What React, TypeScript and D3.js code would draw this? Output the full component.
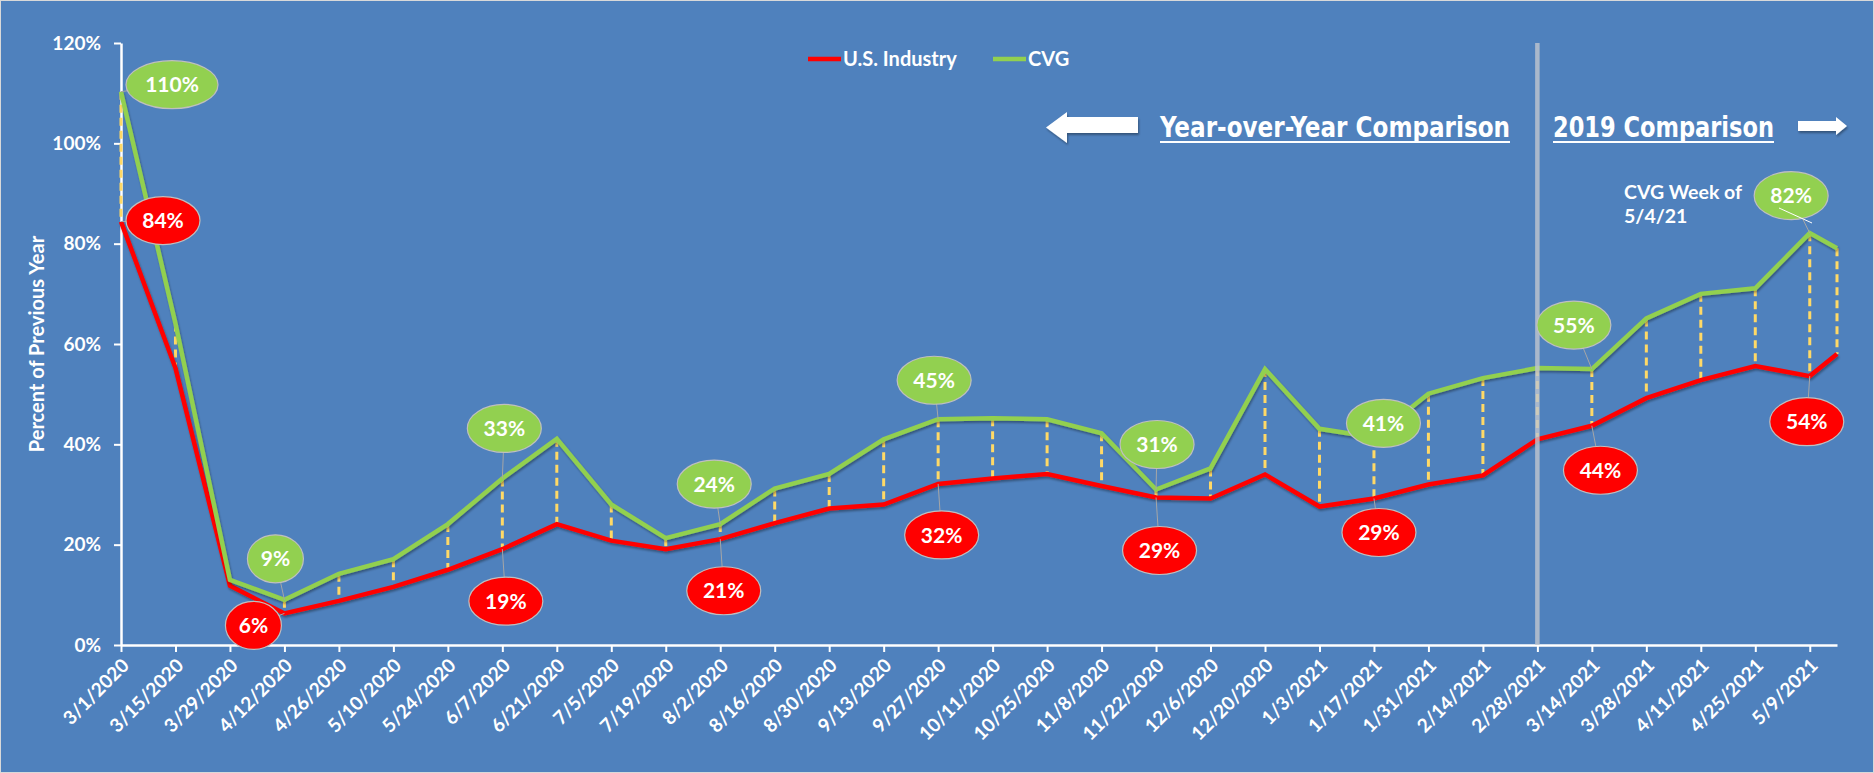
import * as d3 from "d3";
import React, { useRef, useEffect } from "react";

const width = 1874;
const height = 773;
const margin = { top: 43, right: 37, bottom: 128, left: 121 };

// biweekly weeks, last point is one week after 5/9/2021
const dates = [
  "3/1/2020", "3/15/2020", "3/29/2020", "4/12/2020", "4/26/2020", "5/10/2020",
  "5/24/2020", "6/7/2020", "6/21/2020", "7/5/2020", "7/19/2020", "8/2/2020",
  "8/16/2020", "8/30/2020", "9/13/2020", "9/27/2020", "10/11/2020", "10/25/2020",
  "11/8/2020", "11/22/2020", "12/6/2020", "12/20/2020", "1/3/2021", "1/17/2021",
  "1/31/2021", "2/14/2021", "2/28/2021", "3/14/2021", "3/28/2021", "4/11/2021",
  "4/25/2021", "5/9/2021", "5/16/2021",
];
const tickDates = dates.slice(0, 32);
const yTicks = [0, 20, 40, 60, 80, 100, 120];

const usIndustry = [
  84.4, 55.2, 11.8, 6.3, 8.8, 11.6, 15.0, 19.1, 24.1, 20.8, 19.1, 21.1, 24.3, 27.2,
  28.0, 32.1, 33.2, 34.1, 31.7, 29.4, 29.2, 34.0, 27.6, 29.2, 32.0, 33.8, 41.0, 43.7,
  49.2, 52.8, 55.6, 53.6, 58.0,
];
const cvg = [
  110.3, 64.1, 13.0, 9.0, 14.2, 17.1, 24.1, 33.2, 41.1, 28.0, 21.3, 24.1, 31.2, 34.1,
  41.0, 45.0, 45.2, 45.0, 42.2, 31.0, 35.2, 55.0, 43.1, 41.4, 50.1, 53.2, 55.2, 55.0,
  65.1, 70.0, 71.1, 82.1, 79.1,
];

const splitDate = "2/28/2021";

// bubble labels: which point, and where the bubble sits relative to it
const callouts = [
  { s: "cvg", i: 0, dx: 51, dy: -7, rx: 46 },
  { s: "us", i: 0, dx: 42, dy: -1, rx: 37 },
  { s: "cvg", i: 3, dx: -9, dy: -41, rx: 28 },
  { s: "us", i: 3, dx: -31, dy: 12, rx: 28 },
  { s: "cvg", i: 7, dx: 2, dy: -50, rx: 37 },
  { s: "us", i: 7, dx: 3.5, dy: 52, rx: 37 },
  { s: "cvg", i: 11, dx: -6, dy: -40, rx: 37 },
  { s: "us", i: 11, dx: 3.5, dy: 51.6, rx: 37 },
  { s: "cvg", i: 15, dx: -4, dy: -39, rx: 37 },
  { s: "us", i: 15, dx: 3.5, dy: 51, rx: 37 },
  { s: "cvg", i: 19, dx: 1, dy: -45, rx: 37 },
  { s: "us", i: 19, dx: 3.5, dy: 53, rx: 37 },
  { s: "cvg", i: 23, dx: 9.5, dy: -14, rx: 37 },
  { s: "us", i: 23, dx: 5, dy: 34, rx: 37 },
  { s: "cvg", i: 27, dx: -18, dy: -44, rx: 37 },
  { s: "us", i: 27, dx: 8.6, dy: 44.5, rx: 37 },
  { s: "cvg", i: 31, dx: -18.6, dy: -37.5, rx: 37 },
  { s: "us", i: 31, dx: -3, dy: 45.6, rx: 37 },
];

const font = "Lato, 'Open Sans', sans-serif";
const narrow = "'Liberation Sans Narrow', 'DejaVu Sans Condensed', sans-serif";

export default function App() {
  const ref = useRef<SVGSVGElement>(null);

  useEffect(() => {
    const svg = d3.select(ref.current);
    svg.selectAll("*").remove();

    const parse = d3.timeParse("%m/%d/%Y");
    const x = d3
      .scaleTime()
      .domain([parse(dates[0]) as Date, parse(dates[dates.length - 1]) as Date])
      .range([margin.left, width - margin.right]);
    const y = d3
      .scaleLinear()
      .domain([0, 120])
      .range([height - margin.bottom, margin.top]);

    const defs = svg.append("defs");
    const shadow = defs.append("filter").attr("id", "shadow").attr("x", "-10%").attr("y", "-10%").attr("width", "120%").attr("height", "130%");
    shadow
      .append("feDropShadow")
      .attr("dx", 1)
      .attr("dy", 2)
      .attr("stdDeviation", 1.2)
      .attr("flood-color", "#000")
      .attr("flood-opacity", 0.35);

    svg
      .append("rect")
      .attr("x", 0.5)
      .attr("y", 0.5)
      .attr("width", width - 1)
      .attr("height", height - 1)
      .attr("fill", "#4F81BD")
      .attr("stroke", "#D9D9D9");

    // axes
    const yAxis = d3
      .axisLeft(y)
      .tickValues(yTicks)
      .tickSize(7)
      .tickSizeOuter(0)
      .tickPadding(13)
      .tickFormat((d) => `${d}%`);
    const gy = svg.append("g").attr("transform", `translate(${margin.left},0)`).call(yAxis);

    const xAxis = d3
      .axisBottom(x)
      .tickValues(tickDates.map((d) => parse(d) as Date))
      .tickSize(7)
      .tickSizeOuter(0)
      .tickFormat((d, i) => tickDates[i]);
    const gx = svg
      .append("g")
      .attr("transform", `translate(0,${height - margin.bottom})`)
      .call(xAxis);

    [gx, gy].forEach((g) => {
      g.select(".domain").attr("stroke", "#fff").attr("stroke-width", 2.5);
      g.selectAll(".tick line").attr("stroke", "#fff").attr("stroke-width", 2);
      g.selectAll("text")
        .attr("fill", "#fff")
        .style("font-family", font)
        .style("font-weight", "bold")
        .style("font-size", "19px");
    });
    gx.selectAll("text")
      .attr("x", 0)
      .attr("y", 0)
      .attr("dy", "0.35em")
      .attr("text-anchor", "end")
      .attr("transform", "translate(4,17) rotate(-45)");

    svg
      .append("text")
      .attr("transform", `translate(44,${(margin.top + height - margin.bottom) / 2}) rotate(-90)`)
      .attr("text-anchor", "middle")
      .attr("fill", "#fff")
      .style("font-family", font)
      .style("font-weight", "bold")
      .style("font-size", "20px")
      .text("Percent of Previous Year");

    // high-low drop lines
    svg
      .append("g")
      .selectAll("line")
      .data(dates)
      .join("line")
      .attr("x1", (d) => x(parse(d) as Date))
      .attr("x2", (d) => x(parse(d) as Date))
      .attr("y1", (d, i) => y(cvg[i]))
      .attr("y2", (d, i) => y(usIndustry[i]))
      .attr("stroke", "#FFD966")
      .attr("stroke-width", 3)
      .attr("stroke-dasharray", "8,5");

    const line = (vals: number[]) =>
      d3
        .line<string>()
        .x((d) => x(parse(d) as Date))
        .y((d, i) => y(vals[i]))(dates);

    svg
      .append("path")
      .attr("d", line(usIndustry))
      .attr("fill", "none")
      .attr("stroke", "#FF0000")
      .attr("stroke-width", 4.5)
      .attr("filter", "url(#shadow)");
    svg
      .append("path")
      .attr("d", line(cvg))
      .attr("fill", "none")
      .attr("stroke", "#92D050")
      .attr("stroke-width", 4.5)
      .attr("filter", "url(#shadow)");

    // divider between year-over-year and 2019 comparison
    const sx = x(parse(splitDate) as Date);
    svg
      .append("line")
      .attr("x1", sx)
      .attr("x2", sx)
      .attr("y1", margin.top)
      .attr("y2", height - margin.bottom)
      .attr("stroke", "#C0C6CE")
      .attr("stroke-opacity", 0.8)
      .attr("stroke-width", 4.5);

    // bubbles
    const cg = svg.append("g");
    callouts.forEach((c) => {
      const vals = c.s === "cvg" ? cvg : usIndustry;
      const px = x(parse(dates[c.i]) as Date);
      const py = y(vals[c.i]);
      const cx = px + c.dx;
      const cy = py + c.dy;
      cg.append("line")
        .attr("x1", px)
        .attr("y1", py)
        .attr("x2", cx)
        .attr("y2", cy)
        .attr("stroke", "#A6A6A6")
        .attr("stroke-width", 1);
      cg.append("ellipse")
        .attr("cx", cx)
        .attr("cy", cy)
        .attr("rx", c.rx)
        .attr("ry", 24)
        .attr("fill", c.s === "cvg" ? "#92D050" : "#FF0000")
        .attr("stroke", "#BFBFBF")
        .attr("stroke-width", 1.2);
      cg.append("text")
        .attr("x", cx)
        .attr("y", cy)
        .attr("dy", "0.36em")
        .attr("text-anchor", "middle")
        .attr("fill", "#fff")
        .style("font-family", font)
        .style("font-weight", "bold")
        .style("font-size", "21px")
        .text(`${Math.round(vals[c.i])}%`);
    });

    // stray white tick under the 82% bubble
    svg
      .append("line")
      .attr("x1", 1779)
      .attr("y1", 208)
      .attr("x2", 1812)
      .attr("y2", 223)
      .attr("stroke", "#fff")
      .attr("stroke-width", 1);

    svg
      .append("text")
      .attr("x", 1624)
      .attr("y", 199)
      .attr("fill", "#fff")
      .style("font-family", font)
      .style("font-weight", "bold")
      .style("font-size", "19.5px")
      .selectAll("tspan")
      .data(["CVG Week of", "5/4/21"])
      .join("tspan")
      .attr("x", 1624)
      .attr("dy", (d, i) => (i === 0 ? 0 : 24))
      .text((d) => d);

    // legend
    const legend = [
      { name: "U.S. Industry", color: "#FF0000", x: 808 },
      { name: "CVG", color: "#92D050", x: 993 },
    ];
    legend.forEach((l) => {
      svg
        .append("line")
        .attr("x1", l.x)
        .attr("x2", l.x + 33)
        .attr("y1", 59)
        .attr("y2", 59)
        .attr("stroke", l.color)
        .attr("stroke-width", 4.5);
      svg
        .append("text")
        .attr("x", l.x + 35)
        .attr("y", 66)
        .attr("fill", "#fff")
        .style("font-family", font)
        .style("font-weight", "bold")
        .style("font-size", "20px")
        .text(l.name);
    });

    // section headers with block arrows
    const headers = [
      { text: "Year-over-Year Comparison", x: 1160, w: 350 },
      { text: "2019 Comparison", x: 1553, w: 221 },
    ];
    headers.forEach((h) => {
      svg
        .append("text")
        .attr("x", h.x)
        .attr("y", 137)
        .attr("textLength", h.w)
        .attr("lengthAdjust", "spacingAndGlyphs")
        .attr("fill", "#fff")
        .style("font-family", narrow)
        .style("font-weight", "bold")
        .style("font-size", "29px")
        .text(h.text);
      svg
        .append("line")
        .attr("x1", h.x)
        .attr("x2", h.x + h.w)
        .attr("y1", 142)
        .attr("y2", 142)
        .attr("stroke", "#fff")
        .attr("stroke-width", 1.8);
    });

    const arrows = [
      [[1046, 127.5], [1067, 112], [1067, 117], [1138, 117], [1138, 133], [1067, 133], [1067, 143]],
      [[1847, 126], [1836, 117], [1836, 121], [1798, 121], [1798, 131], [1836, 131], [1836, 135]],
    ];
    svg
      .selectAll(".arrow")
      .data(arrows)
      .join("polygon")
      .classed("arrow", true)
      .attr("points", (d) => d.map((p) => p.join(",")).join(" "))
      .attr("fill", "#fff")
      .attr("filter", "url(#shadow)");
  }, []);

  return (
    <div style={{ position: "absolute", left: 0, top: 0 }}>
      <svg ref={ref} width={width} height={height}></svg>
    </div>
  );
}
